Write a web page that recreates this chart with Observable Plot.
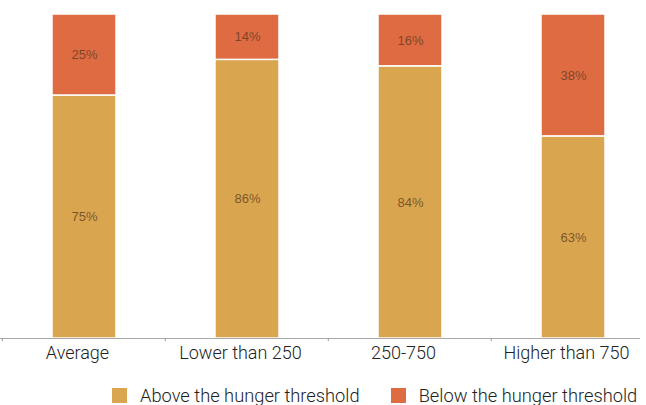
<!DOCTYPE html>
<html>
<head>
<meta charset="utf-8">
<script src="https://cdn.jsdelivr.net/npm/d3@7"></script>
<script src="https://cdn.jsdelivr.net/npm/@observablehq/plot@0.6"></script>
<style>
  html, body { margin: 0; padding: 0; background: #fff; }
  #chart { width: 646px; }
  .legend { display: flex; align-items: center; padding-left: 112px; margin-top: 8px; height: 22px;
    font-family: Roboto, "Liberation Sans", sans-serif; font-weight: 300; font-size: 18.3px; color: #222; white-space: nowrap; }
  .legend .item { display: flex; align-items: center; margin-right: 31px; }
  .legend .sw { width: 15px; height: 15px; margin-right: 13px; flex: none; }
</style>
</head>
<body>
<div id="chart"></div>
<script>
const categories = ["Average", "Lower than 250", "250-750", "Higher than 750"];
const above = [75, 86, 84, 63];
const below = [25, 14, 16, 38];
const seriesNames = ["Above the hunger threshold", "Below the hunger threshold"];
const colors = ["#D9A54F", "#DE6B42"];

const data = [];
categories.forEach((c, i) => {
  data.push({cat: c, series: seriesNames[0], value: above[i]});
  data.push({cat: c, series: seriesNames[1], value: below[i]});
});

const padInner = 0.61;

// small tick marks at the category boundaries on the baseline
function boundaryTicks(index, scales, values, dimensions) {
  const x = scales.x;
  const step = x(categories[1]) - x(categories[0]);
  const y0 = dimensions.height - dimensions.marginBottom;
  const g = d3.create("svg:g").attr("stroke", "#999").attr("stroke-width", 1);
  categories.forEach(c => {
    const bx = x(c) - padInner * step / 2;
    g.append("line").attr("x1", bx).attr("x2", bx).attr("y1", y0).attr("y2", y0 + 3);
  });
  return g.node();
}

const chart = Plot.plot({
  width: 646,
  height: 376,
  marginTop: 14,
  marginBottom: 38,
  marginLeft: 0,
  marginRight: 6,
  style: {fontFamily: "Roboto, 'Liberation Sans', sans-serif", fontSize: "18px", fontWeight: 300, color: "#222", background: "#fff"},
  x: {domain: categories, range: [1, 655], paddingInner: padInner, paddingOuter: padInner / 2, label: null, axis: null},
  y: {axis: null},
  color: {domain: seriesNames, range: colors},
  marks: [
    Plot.barY(data, Plot.stackY({offset: "normalize", order: seriesNames}, {x: "cat", y: "value", fill: "series", stroke: "#fff", strokeWidth: 1.5})),
    Plot.text(data, Plot.stackY({offset: "normalize", order: seriesNames}, {x: "cat", y: "value", z: "series", text: d => d.value + "%", fill: "#5a3a1e", fillOpacity: 0.75, fontSize: 13, fontWeight: 400, fontFamily: "'Liberation Sans', Arial, sans-serif"})),
    Plot.ruleY([0], {stroke: "#aaa", strokeWidth: 1}),
    Plot.axisX({tickSize: 0, tickPadding: 8, dx: -7, label: null}),
    boundaryTicks
  ]
});
document.getElementById("chart").appendChild(chart);

const legend = document.createElement("div");
legend.className = "legend";
seriesNames.forEach((s, i) => {
  const item = document.createElement("div");
  item.className = "item";
  const sw = document.createElement("span");
  sw.className = "sw";
  sw.style.background = colors[i];
  const t = document.createElement("span");
  t.textContent = s;
  item.appendChild(sw);
  item.appendChild(t);
  legend.appendChild(item);
});
document.getElementById("chart").appendChild(legend);
</script>
</body>
</html>
